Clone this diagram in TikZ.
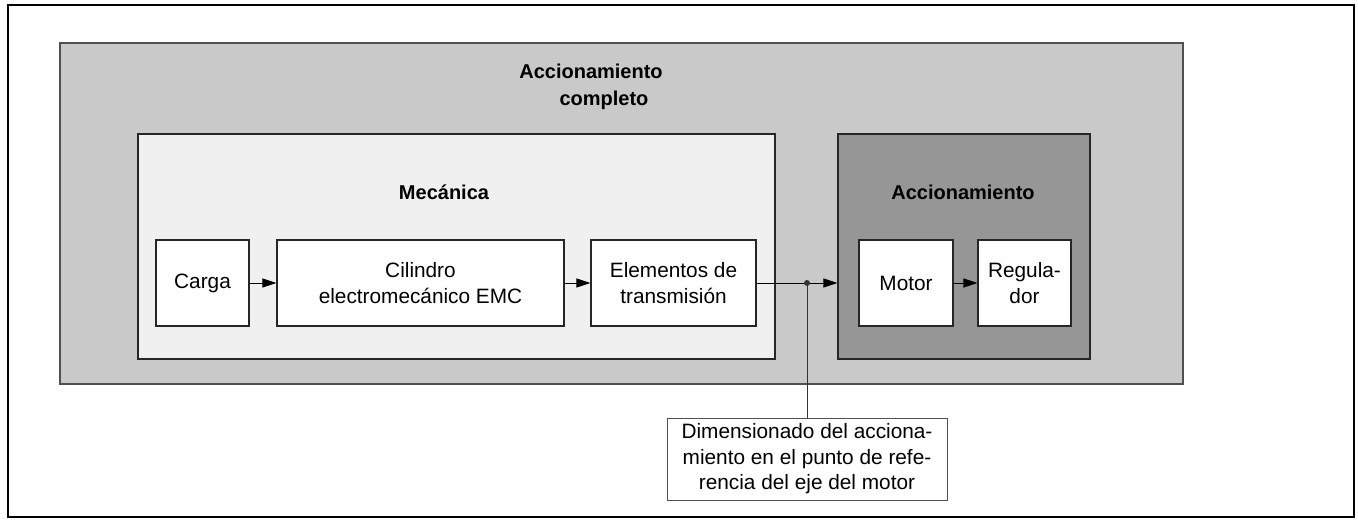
\documentclass[tikz,border=0pt]{standalone}
\usepackage{fontspec}
\setmainfont{Liberation Sans}
\usetikzlibrary{arrows.meta}
\definecolor{outerfill}{HTML}{C9C9C9}
\definecolor{mechfill}{HTML}{F0F0F0}
\definecolor{drivefill}{HTML}{969696}
\definecolor{edgegray}{HTML}{505050}
\begin{document}
\begin{tikzpicture}[x=1bp,y=-1bp,
  every node/.style={inner sep=0pt,font=\fontsize{20.8bp}{25.5bp}\selectfont},
  area/.style={draw=#1,line width=1.2bp,rectangle},
  blk/.style={draw=black!85,line width=1.2bp,fill=white,rectangle,minimum height=86bp,align=center},
  flow/.style={line width=0.9bp,-{Triangle[length=14bp,width=9bp]}},
  ttl/.style={font=\bfseries\fontsize{20bp}{27bp}\selectfont}]
\useasboundingbox (0,0) rectangle (1358,520);
\draw[line width=2.2bp] (8,5) rectangle (1354,517);
% areas
\node[area=edgegray,fill=outerfill,minimum width=1123bp,minimum height=341bp] (whole) at (621.5,213.5) {};
\node[area=black!85,fill=mechfill,minimum width=637bp,minimum height=225bp] (mech) at (456.5,246.5) {};
\node[area=black!85,fill=drivefill,minimum width=252bp,minimum height=225bp] (drive) at (964,246.5) {};
% titles
\node[ttl,anchor=base] (t1) at (591,79) {Accionamiento};
\node[ttl,anchor=base] (t2) at (604,106) {completo};
\node[ttl,anchor=base] (t3) at (444,200) {Mecánica};
\node[ttl,anchor=base] (t4) at (963,200) {Accionamiento};
% blocks
\node[blk,minimum width=93bp] (carga) at (202.5,283) {Carga};
\node[blk,minimum width=287bp] (cil) at (420.5,283) {Cilindro\\electromecánico EMC};
\node[blk,minimum width=165bp] (elem) at (673.5,283) {Elementos de\\transmisión};
\node[blk,minimum width=94bp] (motor) at (906,283) {Motor};
\node[blk,minimum width=93bp] (reg) at (1024.5,283) {Regula-\\dor};
% label
\node[draw=edgegray,line width=1bp,fill=white,rectangle,minimum width=280bp,minimum height=82bp,align=center] (lab) at (807,459) {Dimensionado del acciona-\\miento en el punto de refe-\\rencia del eje del motor};
% connectors
\draw[flow] (carga.east) -- (cil.west);
\draw[flow] (cil.east) -- (elem.west);
\draw[flow] (elem.east) -- (drive.west |- elem.east);
\draw[flow] (motor.east) -- (reg.west);
\coordinate (tap) at (lab.north |- elem.east);
\fill[black!80] (tap) circle (3bp);
\draw[line width=0.9bp,black!80] (tap) -- (lab.north);
\end{tikzpicture}
\end{document}
